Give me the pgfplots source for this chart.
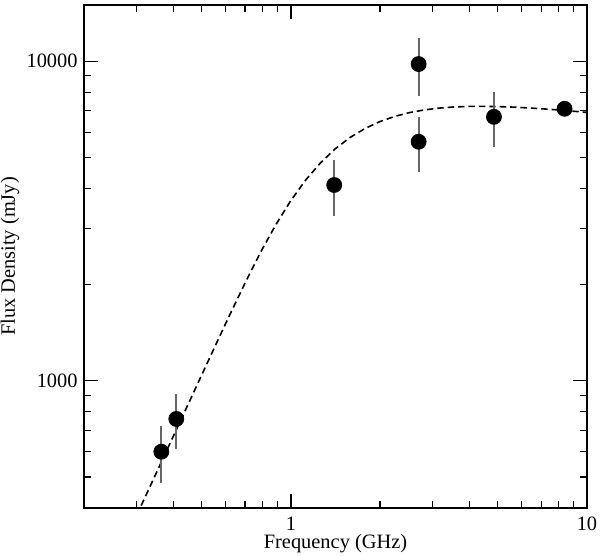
\documentclass[border=0pt]{standalone}
\usepackage{fontspec}
\setmainfont{Liberation Serif}
\usepackage{pgfplots}
\pgfplotsset{compat=1.18}
\begin{document}
\begin{tikzpicture}
\begin{axis}[
  xmode=log, ymode=log,
  scale only axis, width=251.5bp, height=251.5bp,
  xmin=0.2, xmax=10, ymin=400, ymax=15000,
  xtick={1,10}, xticklabels={1,10},
  ytick={1000,10000}, yticklabels={1000,10000},
  minor xtick={0.2,0.3,0.4,0.5,0.6,0.7,0.8,0.9,2,3,4,5,6,7,8,9},
  minor ytick={400,500,600,700,800,900,2000,3000,4000,5000,6000,7000,8000,9000},
  major tick length=7bp, minor tick length=3.75bp,
  every tick/.style={black, line width=0.6pt},
  axis line style={line width=0.8pt},
  tick label style={font=\fontsize{10.2bp}{12bp}\selectfont, inner sep=0pt},
  xticklabel style={yshift=-4.3bp},
  yticklabel style={xshift=-3bp},
  label style={font=\fontsize{10.2bp}{12bp}\selectfont, inner sep=0pt},
  xlabel={Frequency (GHz)},
  ylabel={Flux Density (mJy)},
  xlabel style={at={([yshift=-20.5bp]axis description cs:0.5,0)}, anchor=base},
  ylabel style={at={([xshift=-34.5bp]axis description cs:0,0.5)}, anchor=base},
]
% model curve, values typed in
\addplot[black, line width=0.8pt, dash pattern=on 3.2bp off 2bp] coordinates {
(0.2818,332.0) (0.3162,418.0) (0.3548,526.2) (0.3981,662.5) (0.4467,834.0)
(0.5012,1049.9) (0.5623,1320.6) (0.6310,1657.5) (0.7079,2067.7) (0.7943,2550.1)
(0.8913,3091.5) (1.0000,3668.8) (1.1220,4251.4) (1.2589,4811.0) (1.4125,5324.3)
(1.5849,5775.8) (1.7783,6159.8) (1.9953,6471.7) (2.2387,6718.6) (2.5119,6907.4)
(2.8184,7042.4) (3.1623,7135.3) (3.5481,7193.6) (3.9811,7221.1) (4.4668,7226.9)
(5.0119,7213.0) (5.6234,7188.0) (6.3096,7145.6) (7.0795,7098.0) (7.9433,7044.0)
(8.9125,6983.0) (10.000,6918.0)
};
\addplot[only marks, mark=*, mark size=3.75bp, black,
  error bars/.cd, y dir=both, y explicit, error mark=none,
  error bar style={line width=0.9pt, black!60}]
  table[x=x, y=y, y error=e] {
x     y     e
0.365 600   120
0.41  760   150
1.4   4100  820
2.7   9800  2000
2.7   5600  1100
4.85  6700  1320
8.4   7100  300
};
\end{axis}
\path ([xshift=-42bp, yshift=-24bp]current axis.south west)
      ([xshift=6.5bp, yshift=2.5bp]current axis.north east);
\end{tikzpicture}
\end{document}
